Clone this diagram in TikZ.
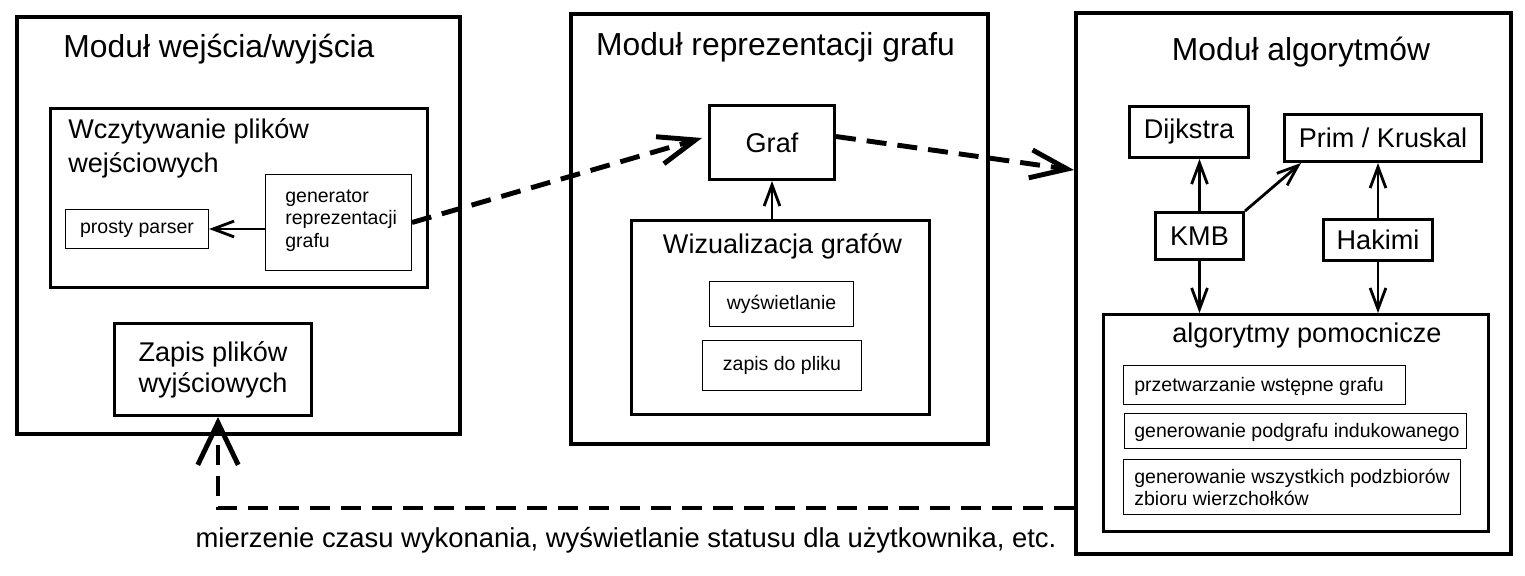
\documentclass[tikz,border=0pt]{standalone}
\usepackage{fontspec}
\setmainfont{Liberation Sans}
\usetikzlibrary{arrows.meta}

\begin{document}
\begin{tikzpicture}[x=0.02cm, y=-0.02cm,
    modbox/.style={draw, line width=2.3pt},
    box/.style={draw, line width=1.7pt, align=center, inner sep=0pt,
        font=\fontsize{15.4}{17.6}\selectfont},
    thinbox/.style={draw, line width=0.6pt, inner sep=0pt,
        font=\fontsize{11.1}{12.8}\selectfont},
    modtitle/.style={inner sep=0pt, font=\fontsize{18.1}{21}\selectfont},
    bigtxt/.style={inner sep=0pt, align=left, font=\fontsize{15.4}{18.8}\selectfont},
    smalltxt/.style={inner sep=0pt, align=left, font=\fontsize{11.1}{12.4}\selectfont},
    arr/.style={line width=1.6pt, -{Straight Barb[length=12pt, width=9pt]}},
    dasharr/.style={line width=2.8pt, dash pattern=on 0.4cm off 0.22cm,
        -{Straight Barb[length=21pt, width=16pt]}}]
    \path[use as bounding box, fill=white] (0,0) rectangle (1525,575);

    % modul wejscia/wyjscia
    \node[modbox, minimum width=8.86cm, minimum height=8.34cm] (modio) at (238.5,225.5) {};
    \node[modtitle, anchor=base] (modio-t) at (219,57) {Moduł wejścia/wyjścia};
    \node[box, minimum width=7.54cm, minimum height=3.58cm] (wczyt) at (239,198) {};
    \node[bigtxt, anchor=base west] (wczyt-t) at (68,172) {Wczytywanie plików\\wejściowych};
    \node[thinbox, minimum width=2.86cm, minimum height=0.78cm] (parser) at (137,229) {prosty parser};
    \node[thinbox, minimum width=2.92cm, minimum height=1.92cm] (gen) at (338.5,222.5) {};
    \node[smalltxt, anchor=base west, font=\fontsize{11.1}{12.8}\selectfont] (gen-t) at (285,247) {generator\\reprezentacji\\grafu};
    \node[box, minimum width=3.94cm, minimum height=1.84cm] (zapis) at (213,369.5) {Zapis plików\\wyjściowych};

    % modul reprezentacji grafu
    \node[modbox, minimum width=8.34cm, minimum height=8.6cm] (modgraf) at (779.5,229) {};
    \node[modtitle, anchor=base] (modgraf-t) at (775.5,55) {Moduł reprezentacji grafu};
    \node[box, minimum width=2.5cm, minimum height=1.48cm] (graf) at (772,142.5) {Graf};
    \node[box, minimum width=5.96cm, minimum height=3.88cm] (wizual) at (780.5,317.5) {};
    \node[bigtxt, anchor=base] (wizual-t) at (782.5,253) {Wizualizacja grafów};
    \node[thinbox, minimum width=2.88cm, minimum height=0.9cm] (wysw) at (781.5,304) {wyświetlanie};
    \node[thinbox, minimum width=3.18cm, minimum height=1.0cm] (zapisdo) at (782,365.5) {zapis do pliku};

    % modul algorytmow
    \node[modbox, minimum width=8.7cm, minimum height=10.82cm] (modalg) at (1293.5,283.5) {};
    \node[modtitle, anchor=base] (modalg-t) at (1301,60) {Moduł algorytmów};
    \node[box, minimum width=2.38cm, minimum height=1.02cm] (dijkstra) at (1189,132) {Dijkstra};
    \node[box, minimum width=3.94cm, minimum height=0.94cm] (prim) at (1383,138) {Prim / Kruskal};
    \node[box, minimum width=1.76cm, minimum height=0.94cm] (kmb) at (1199.5,236) {KMB};
    \node[box, minimum width=2.18cm, minimum height=0.82cm] (hakimi) at (1378,240) {Hakimi};
    \node[box, minimum width=7.7cm, minimum height=4.34cm] (pomoc) at (1296,423) {};
    \node[bigtxt, anchor=base] (pomoc-t) at (1307,342) {algorytmy pomocnicze};
    \node[thinbox, minimum width=5.64cm, minimum height=0.78cm] (przetw) at (1264.5,385) {};
    \node[smalltxt, anchor=base west] (przetw-t) at (1134,391) {przetwarzanie wstępne grafu};
    \node[thinbox, minimum width=6.84cm, minimum height=0.7cm] (podgraf) at (1295.5,431) {};
    \node[smalltxt, anchor=base west] (podgraf-t) at (1134,437) {generowanie podgrafu indukowanego};
    \node[thinbox, minimum width=6.74cm, minimum height=1.1cm] (podzb) at (1292,487) {};
    \node[smalltxt, anchor=base west] (podzb-t) at (1134,505) {generowanie wszystkich podzbiorów\\zbioru wierzchołków};

    \node[bigtxt, anchor=base, font=\fontsize{15.6}{18}\selectfont] (uwaga) at (626,547) {mierzenie czasu wykonania, wyświetlanie statusu dla użytkownika, etc.};

    % strzalki
    \draw[arr] (gen.west |- parser.east) -- (parser.east);
    \draw[arr] (graf.south |- wizual.north) -- (graf.south);
    \draw[arr] (kmb.north) -- (kmb.north |- dijkstra.south);
    \draw[arr] (kmb.north east) -- ([xshift=0.36cm]prim.south west);
    \draw[arr] (hakimi.north) -- (hakimi.north |- prim.south);
    \draw[arr] (kmb.south) -- (kmb.south |- pomoc.north);
    \draw[arr] (hakimi.south) -- (hakimi.south |- pomoc.north);
    \draw[dasharr] (gen.east) -- ([xshift=-0.12cm, yshift=0.09cm]graf.west);
    \draw[dasharr] ([yshift=0.12cm]graf.east) -- ([yshift=2.27cm]modalg.west);
    \draw[dasharr, -{Straight Barb[length=24pt, width=23pt]}] ([yshift=-4.49cm]modalg.west) -| ([xshift=0.1cm]zapis.south);
\end{tikzpicture}
\end{document}
